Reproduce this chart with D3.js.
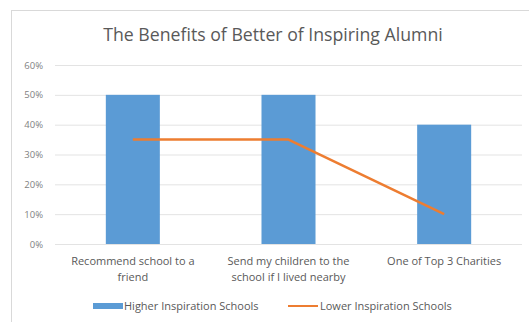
<!DOCTYPE html>
<html><head><meta charset="utf-8">
<script src="https://cdn.jsdelivr.net/npm/d3@7"></script>
<style>body{margin:0;background:#fff}svg{display:block}</style>
</head><body>
<svg id="c" width="529" height="322"></svg>
<script>
const categories = [["Recommend school to a","friend"],["Send my children to the","school if I lived nearby"],["One of Top 3 Charities"]];
const higher = [0.50, 0.50, 0.40];
const lower = [0.35, 0.35, 0.10];
const yTicks = [0, 0.1, 0.2, 0.3, 0.4, 0.5, 0.6];
const seriesNames = ["Higher Inspiration Schools", "Lower Inspiration Schools"];
const title = "The Benefits of Better of Inspiring Alumni";

const svg = d3.select("#c");
const font = "'Open Sans', 'Liberation Sans', sans-serif";
const blue = "#5b9bd5", orange = "#ed7d31";

svg.append("rect").attr("x",11.5).attr("y",10.5).attr("width",530).attr("height",330)
  .attr("fill","#fff").attr("stroke","#d9d9d9");

svg.append("text").attr("x",273).attr("y",41).attr("text-anchor","middle")
  .attr("font-family",font).attr("font-size",17.7).attr("fill","#595959").text(title);

const idx = categories.map((d,i)=>i);
const x = d3.scaleBand().domain(idx).range([55,522]).paddingInner(0.653).paddingOuter(0.3265);
const y = d3.scaleLinear().domain([0,0.6]).range([244,65]);

const yAxis = d3.axisLeft(y).tickValues(yTicks).tickFormat(d3.format(".0%")).tickSize(0).tickPadding(12);
const gy = svg.append("g").attr("transform","translate(55,0)").call(yAxis);
gy.select(".domain").remove();
gy.selectAll("text").attr("font-family",font).attr("font-size",9.5).attr("fill","#7f7f7f");

svg.append("g").selectAll("line").data(yTicks).join("line")
  .attr("x1",55).attr("x2",522).attr("y1",d=>y(d)+0.5).attr("y2",d=>y(d)+0.5)
  .attr("stroke","#e3e3e3").attr("stroke-width",1);

svg.append("g").selectAll("rect").data(higher).join("rect")
  .attr("x",(d,i)=>x(i)).attr("width",x.bandwidth())
  .attr("y",d=>y(d)).attr("height",d=>y(0)-y(d)).attr("fill",blue);

const line = d3.line().x((d,i)=>x(i)+x.bandwidth()/2).y(d=>y(d));
svg.append("path").datum(lower).attr("d",line).attr("fill","none")
  .attr("stroke",orange).attr("stroke-width",2.5).attr("stroke-linejoin","round");

const gx = svg.append("g");
categories.forEach((lines,i)=>{
  const t = gx.append("text").attr("text-anchor","middle").attr("font-family",font)
    .attr("font-size",11).attr("fill","#595959");
  lines.forEach((s,j)=>{
    t.append("tspan").attr("x",x(i)+x.bandwidth()/2).attr("y",265+j*15.5).text(s);
  });
});

const lg = svg.append("g").attr("font-family",font).attr("font-size",11).attr("fill","#595959");
lg.append("rect").attr("x",93).attr("y",303).attr("width",30).attr("height",6).attr("fill",blue);
lg.append("text").attr("x",124).attr("y",310).text(seriesNames[0]);
lg.append("line").attr("x1",288).attr("x2",318).attr("y1",306).attr("y2",306).attr("stroke",orange).attr("stroke-width",2);
lg.append("text").attr("x",320).attr("y",310).text(seriesNames[1]);
</script>
</body></html>
